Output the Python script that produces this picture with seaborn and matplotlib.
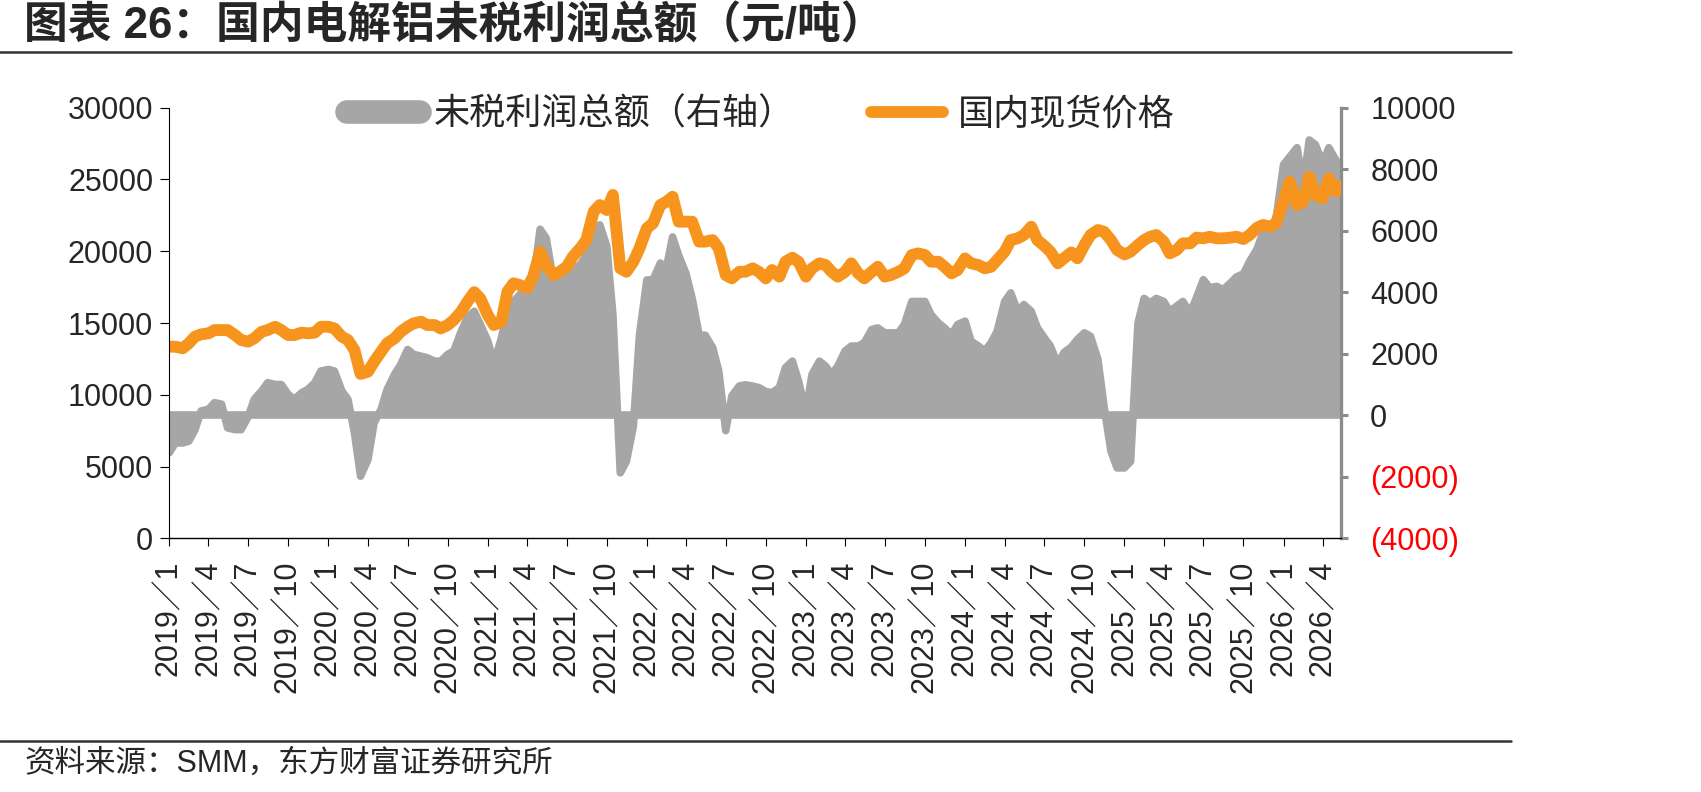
import numpy as np
import pandas as pd
import matplotlib
matplotlib.use("Agg")
import matplotlib.pyplot as plt
import seaborn as sns
from matplotlib.lines import Line2D

# ==========================================
# DATA (semi-monthly readings, 1st and 15th of each month)
# ==========================================

start_date = "2019-01-01"

# 国内现货价格 (元/吨), left axis
price = [
    # 2019
    13350, 13350, 13240, 13590, 14050, 14210, 14280, 14510, 14510, 14510, 14160, 13815,
    13700, 13930, 14390, 14510, 14740, 14510, 14160, 14160, 14330, 14280, 14330, 14740,
    # 2020
    14740, 14620, 14050, 13815, 13120, 11450, 11610, 12300, 13000, 13590, 13930, 14390,
    14740, 14980, 15090, 14860, 14860, 14620, 14860, 15210, 15800, 16480, 17150, 16700,
    # 2021
    15550, 14860, 15090, 17180, 17770, 17650, 17420, 18230, 19970, 19040, 18340, 18570,
    18920, 19620, 20200, 20780, 22760, 23220, 22870, 23920, 18810, 18570, 19270, 20200,
    # 2022
    21600, 21950, 23220, 23450, 23800, 22060, 22060, 22060, 20670, 20670, 20780, 20200,
    18340, 18110, 18570, 18570, 18810, 18570, 18110, 18690, 18230, 19270, 19550, 19270,
    # 2023
    18230, 18810, 19160, 19040, 18570, 18230, 18570, 19160, 18460, 18110, 18570, 18920,
    18230, 18340, 18570, 18810, 19740, 19850, 19740, 19270, 19270, 18920, 18460, 18690,
    # 2024
    19500, 19160, 19040, 18810, 18920, 19390, 19970, 20780, 20900, 21130, 21710, 20780,
    20380, 19970, 19160, 19510, 19920, 19510, 20435, 21130, 21480, 21360, 20780, 20090,
    # 2025
    19780, 19970, 20435, 20780, 21010, 21130, 20670, 19850, 20090, 20550, 20550, 20950,
    20900, 21010, 20900, 20900, 20950, 21010, 20850, 21130, 21640, 21830, 21710, 21950,
    # 2026
    23500, 24850, 23220, 23450, 25190, 23920, 23690, 25080, 24150, 24610,
]

# 未税利润总额 (元/吨), right axis
profit = [
    # 2019
    -1220, -900, -900, -840, -470, 140, 195, 410, 360, -410, -465, -465,
    -50, 520, 790, 1060, 1000, 1000, 680, 520, 735, 840, 1060, 1440,
    # 2020
    1490, 1440, 790, 520, -570, -1980, -1440, -250, 195, 840, 1330, 1650,
    2140, 1980, 1920, 1870, 1760, 1760, 1980, 2090, 2735, 3170, 3380, 2950,
    # 2021
    2410, 1700, 2500, 3380, 3700, 3920, 4140, 4300, 6050, 5760, 4350, 4410,
    4570, 4730, 4900, 5200, 5600, 6190, 5500, 3280, -1870, -1500, -360, 2600,
    # 2022
    4400, 4400, 4950, 4800, 5800, 5200, 4600, 3800, 2600, 2600, 2200, 1440,
    -500, 630, 950, 990, 950, 900, 770, 735, 900, 1545, 1760, 1115,
    # 2023
    100, 1330, 1760, 1600, 1330, 1600, 2090, 2250, 2250, 2360, 2790, 2840,
    2680, 2680, 2680, 2950, 3700, 3700, 3700, 3275, 3000, 2840, 2625, 2950,
    # 2024
    3060, 2410, 2250, 2090, 2360, 2735, 3700, 3980, 3380, 3600, 3380, 2850,
    2520, 2250, 1650, 2040, 2220, 2465, 2680, 2570, 1815, 300, -1170, -1710,
    # 2025
    -1710, -1500, 3000, 3800, 3650, 3800, 3700, 3380, 3550, 3700, 3330, 3815,
    4410, 4150, 4190, 4080, 4300, 4500, 4600, 5000, 5400, 5950, 6030, 6400,
    # 2026
    8150, 8400, 8700, 7500, 8950, 8800, 8190, 8700, 8300, 7980,
]

left_ticks = [0, 5000, 10000, 15000, 20000, 25000, 30000]
right_ticks = [-4000, -2000, 0, 2000, 4000, 6000, 8000, 10000]

title = "图表 26：国内电解铝未税利润总额（元/吨）"
profit_name = "未税利润总额（右轴）"
price_name = "国内现货价格"
source = "资料来源：SMM，东方财富证券研究所"

df = pd.DataFrame({
    "date": pd.date_range(start_date, periods=len(price), freq="SMS"),
    "price": price,
    "profit": profit,
})
x_ticks = pd.date_range("2019-01-01", "2026-04-01", freq="QS")

# ==========================================
# STYLE
# ==========================================

sns.set_style("white")
plt.rcParams["font.family"] = ["Liberation Sans", "Noto Sans CJK SC"]

orange = "#F7941D"
gray = "#A6A6A6"
axis_gray = "#8C8C8C"

fig = plt.figure(figsize=(17.01, 7.92), dpi=100)
ax = fig.add_axes([0.0995, 0.3203, 0.6889, 0.5437])
ax2 = ax.twinx()
ax.set_zorder(ax2.get_zorder() + 1)
ax.patch.set_visible(False)

# ==========================================
# PROFIT AREA (right axis)
# ==========================================

ax2.fill_between(df["date"], df["profit"], 0, color=gray, lw=0)
sns.lineplot(data=df, x="date", y="profit", ax=ax2, color=gray, lw=5.5,
             solid_joinstyle="round", solid_capstyle="round")
ax2.axhline(0, color=gray, lw=5.5)

# ==========================================
# PRICE LINE (left axis)
# ==========================================

sns.lineplot(data=df, x="date", y="price", ax=ax, color=orange, lw=8.5,
             solid_joinstyle="round", solid_capstyle="round")

ax.set_xlim(pd.Timestamp("2019-01-01"), pd.Timestamp("2026-05-13"))
ax.set_ylim(0, 30000)
ax2.set_ylim(-4000, 10000)

ax.set_xlabel("")
ax.set_ylabel("")
ax2.set_xlabel("")
ax2.set_ylabel("")

ax.set_xticks(x_ticks)
ax.set_xticklabels([f"{d.year}／{d.month}" for d in x_ticks], rotation=90, fontsize=22)
ax.set_yticks(left_ticks)
ax.set_yticklabels([str(v) for v in left_ticks], fontsize=22)
ax2.set_yticks(right_ticks)
ax2.set_yticklabels([f"({abs(v)})" if v < 0 else str(v) for v in right_ticks], fontsize=22)
for v, lab in zip(right_ticks, ax2.get_yticklabels()):
    if v < 0:
        lab.set_color("red")

ax.tick_params(axis="y", direction="out", length=6.5, width=0.8, color="black", pad=5, left=True)
ax.tick_params(axis="x", direction="out", length=6, width=0.8, color="black", pad=10, bottom=True)
ax2.tick_params(axis="y", direction="out", length=5, width=2.2, color=axis_gray, pad=16, right=True)

for s in ["top", "right"]:
    ax.spines[s].set_visible(False)
ax.spines["left"].set_color("black")
ax.spines["left"].set_linewidth(0.8)
ax.spines["bottom"].set_color("black")
ax.spines["bottom"].set_linewidth(1.0)
for s in ["top", "left", "bottom"]:
    ax2.spines[s].set_visible(False)
ax2.spines["right"].set_color(axis_gray)
ax2.spines["right"].set_linewidth(2.4)

# ==========================================
# LEGEND
# ==========================================

handles = [
    Line2D([], [], color=gray, lw=17, solid_capstyle="round"),
    Line2D([], [], color=orange, lw=8.5, solid_capstyle="round"),
]
ax.legend(handles, [profit_name, price_name], loc="center left",
          bbox_to_anchor=(0.152, 0.983), ncol=2, frameon=False, fontsize=26,
          handlelength=2.0, handletextpad=0.4, columnspacing=2.1,
          borderpad=0, borderaxespad=0)

# ==========================================
# TITLE, RULES, SOURCE
# ==========================================

fig.text(24 / 1701, 1 - 26 / 792, title, fontsize=31.5, fontweight="bold",
         ha="left", va="center")
fig.add_artist(Line2D([0, 1511 / 1701], [1 - 52 / 792] * 2, transform=fig.transFigure,
                      color="#333333", lw=1.8))
fig.add_artist(Line2D([0, 1511 / 1701], [1 - 741 / 792] * 2, transform=fig.transFigure,
                      color="#333333", lw=1.8))
fig.text(24 / 1701, 1 - 764 / 792, source, fontsize=22, ha="left", va="center")

fig.savefig("out.png", dpi=100)
